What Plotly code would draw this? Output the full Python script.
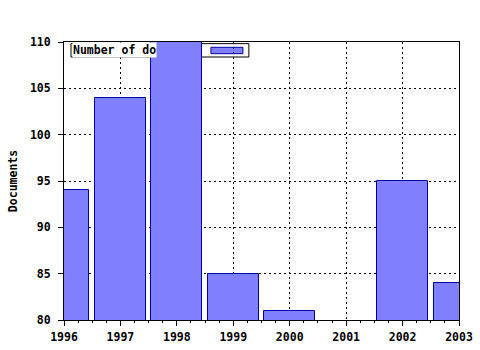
import plotly.graph_objects as go

years = [1996, 1997, 1998, 1999, 2000, 2001, 2002, 2003]
documents = [94, 104, 110, 85, 81, 79, 95, 84]
series_name = "Number of do"
y_title = "Documents"

font_family = "DejaVu Sans Mono"
label_font = dict(family=font_family, size=11.5, color="black", weight="bold")

fig = go.Figure()
fig.add_trace(go.Bar(
    x=years, y=documents, width=0.9, name=series_name,
    marker=dict(color="#8080ff", line=dict(color="#0000a8", width=1)),
))

axis_common = dict(
    showline=True, linecolor="black", linewidth=1, mirror=True,
    showgrid=True, gridcolor="black", griddash="2px,3px", gridwidth=1,
    ticks="outside", ticklen=5, tickcolor="black",
    tickfont=label_font, automargin=False,
    zeroline=False,
)

fig.update_layout(
    width=480, height=350,
    margin=dict(l=64, r=21, t=42, b=30),
    paper_bgcolor="white", plot_bgcolor="white",
    showlegend=False, bargap=0,
    xaxis=dict(range=[1996, 2003], dtick=1, tick0=1996, ticklabelstandoff=1,
               minor=dict(dtick=0.25, ticks="outside", ticklen=2, tickcolor="black"),
               **axis_common),
    yaxis=dict(range=[80, 110], dtick=5, ticklabelstandoff=5,
               title=dict(text=y_title, standoff=9, font=label_font),
               **axis_common),
    shapes=[
        dict(type="rect", xref="paper", yref="paper", x0=0.0177, x1=0.468, y0=0.946, y1=0.994,
             fillcolor="white", line=dict(color="black", width=1), layer="between"),
        dict(type="rect", xref="paper", yref="paper", x0=0.372, x1=0.453, y0=0.958, y1=0.981,
             fillcolor="#8080ff", line=dict(color="#0000a8", width=1), layer="between"),
    ],
    annotations=[
        dict(text=series_name, xref="paper", yref="paper", x=0.021, y=0.970,
             xanchor="left", yanchor="middle", showarrow=False,
             bgcolor="white", borderpad=0,
             font=label_font),
    ],
)

fig.write_html("out.html")
